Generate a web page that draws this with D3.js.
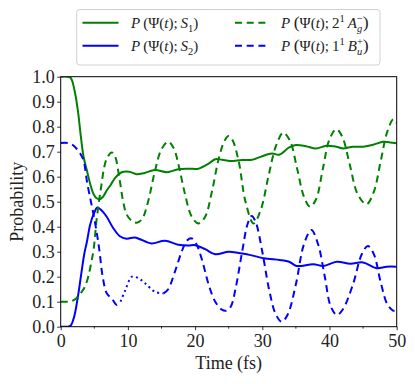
<html>
<head>
<script src="https://cdnjs.cloudflare.com/ajax/libs/d3/7.8.5/d3.min.js"></script>
<style>
  body { margin: 0; background: #fff; }
  svg { display: block; }
</style>
</head>
<body>
<svg id="chart" width="415" height="384"></svg>
<script>
// P(Psi(t); S1)  -- green solid
var s1Points = [[0,1.0],[1,1.0],[1.5,0.995],[2.1,0.94],[2.6,0.855],[3.0,0.76],[3.4,0.68],[3.9,0.625],[4.4,0.57],
  [4.9,0.53],[5.3,0.515],[5.75,0.51],[6.3,0.52],[6.85,0.545],[7.5,0.57],[8.1,0.595],[9.1,0.618],[10.2,0.62],
  [11.3,0.61],[12.5,0.615],[14,0.627],[15.8,0.618],[17.5,0.63],[19,0.632],[20.5,0.632],[22,0.652],[23,0.67],
  [24,0.668],[25.2,0.663],[27,0.667],[28.5,0.668],[30.5,0.687],[31.5,0.693],[32.5,0.688],[34,0.717],[35,0.727],
  [36.5,0.722],[38,0.713],[39.5,0.724],[41,0.72],[42,0.713],[43.5,0.72],[45,0.72],[46.5,0.728],[48,0.74],
  [49,0.737],[50,0.734]];

// P(Psi(t); S2)  -- blue solid
var s2Points = [[0,0],[1,0],[1.5,0.005],[2.0,0.04],[2.5,0.11],[3.0,0.2],[3.5,0.29],[3.9,0.34],[4.4,0.41],
  [4.9,0.45],[5.45,0.477],[6.1,0.465],[6.85,0.44],[7.8,0.395],[8.8,0.362],[9.8,0.352],[11,0.357],[11.8,0.35],
  [13.5,0.333],[15.5,0.344],[17.5,0.328],[19,0.325],[20,0.326],[21.5,0.31],[23,0.29],[25,0.3],[26.5,0.295],
  [27.7,0.29],[30.2,0.274],[32.6,0.267],[34,0.26],[35.1,0.243],[37.6,0.25],[39.1,0.243],[41.1,0.26],
  [43.1,0.252],[45,0.257],[47,0.234],[48.5,0.24],[50,0.24]];

// P(Psi(t); 2^1 A_g^-)  -- green dashed
var agPoints = [[0,0.1],[1,0.1],[1.6,0.102],[2.3,0.113],[3.0,0.135],[3.6,0.16],[4.1,0.2],[4.5,0.25],[4.9,0.31],
  [5.35,0.43],[5.75,0.51],[6.1,0.574],[6.45,0.635],[6.9,0.675],[7.6,0.697],[8.1,0.68],[8.7,0.6],[9.3,0.5],
  [9.8,0.45],[10.5,0.425],[11.3,0.416],[12.1,0.43],[13,0.5],[14,0.62],[15,0.71],[16,0.74],[16.8,0.715],
  [17.6,0.64],[18.5,0.53],[19.5,0.44],[20.5,0.413],[21.5,0.44],[22.5,0.54],[23.5,0.67],[24.4,0.745],[25,0.763],
  [25.6,0.745],[26.5,0.66],[27.5,0.5],[28.7,0.413],[29.8,0.47],[30.9,0.6],[32,0.72],[33.1,0.776],[34.1,0.745],
  [35.2,0.63],[36.2,0.52],[37.1,0.48],[38,0.51],[39,0.63],[40,0.75],[41,0.79],[41.9,0.76],[43,0.65],
  [44.2,0.53],[45.5,0.49],[46.6,0.54],[47.6,0.66],[48.6,0.78],[49.5,0.83],[50,0.815]];

// P(Psi(t); 1^1 B_u^+)  -- blue dashed, dotted between buDotStart and buDotEnd
var buPoints = [[0,0.735],[1,0.735],[1.6,0.73],[2.1,0.72],[2.9,0.693],[3.4,0.665],[3.95,0.574],[4.5,0.5],
  [4.95,0.44],[5.4,0.37],[5.75,0.307],[6.25,0.2],[6.85,0.134],[7.6,0.113],[8.35,0.087],[8.9,0.1],
  [9.6,0.145],[10.6,0.2],[11.5,0.195],[12.5,0.175],[14,0.14],[15.3,0.133],
  [16,0.15],[17,0.22],[18,0.3],[18.8,0.345],[19.5,0.353],[20.2,0.33],[21,0.27],[22,0.17],[23,0.1],
  [24,0.068],[24.6,0.064],[25.3,0.08],[26,0.15],[27,0.3],[27.8,0.41],[28.4,0.443],[29,0.42],[30,0.3],
  [31,0.15],[32,0.05],[32.9,0.02],[33.8,0.05],[35,0.17],[36.2,0.33],[37.3,0.387],[38.3,0.33],[39.3,0.2],
  [40.2,0.08],[41.1,0.047],[42,0.07],[43.5,0.17],[44.8,0.29],[45.7,0.323],[46.6,0.29],[47.6,0.18],
  [48.6,0.09],[49.5,0.064],[50,0.065]];
var buDotStart = 8.9, buDotEnd = 15.3;

var xTicks = [0, 10, 20, 30, 40, 50];
var xMinorTicks = [5, 15, 25, 35, 45];
var yTicks = [0, 0.1, 0.2, 0.3, 0.4, 0.5, 0.6, 0.7, 0.8, 0.9, 1.0];
var xLabel = "Time (fs)";
var yLabel = "Probability";

var font = "'Liberation Serif', 'DejaVu Serif', serif";
var svg = d3.select("#chart");

var xScale = d3.scaleLinear().domain([0, 50]).range([60.7, 396.7]);
var yScale = d3.scaleLinear().domain([0, 1]).range([326.7, 76.7]);

svg.append("clipPath").attr("id", "plotclip")
  .append("rect")
  .attr("x", xScale(0)).attr("y", yScale(1))
  .attr("width", xScale(50) - xScale(0)).attr("height", yScale(0) - yScale(1));

var line = d3.line()
  .x(d => xScale(d[0]))
  .y(d => yScale(d[1]))
  .curve(d3.curveCatmullRom.alpha(0.5));

var plot = svg.append("g").attr("clip-path", "url(#plotclip)");

function drawLine(pts, color, dash) {
  var p = plot.append("path")
    .datum(pts)
    .attr("d", line)
    .attr("fill", "none")
    .attr("stroke", color)
    .attr("stroke-width", 2);
  if (dash) p.attr("stroke-dasharray", dash);
}

drawLine(s1Points, "green", null);
drawLine(s2Points, "blue", null);
drawLine(agPoints, "green", "7,4.7");
drawLine(buPoints.filter(d => d[0] <= buDotStart), "blue", "7,4.7");
drawLine(buPoints.filter(d => d[0] >= buDotStart && d[0] <= buDotEnd), "blue", "2,3.3");
drawLine(buPoints.filter(d => d[0] >= buDotEnd), "blue", "7,4.7");

// axes
var xAxis = d3.axisBottom(xScale).tickValues(xTicks).tickSize(3.5).tickPadding(4).tickFormat(d3.format("d"));
var gx = svg.append("g").attr("transform", "translate(0," + yScale(0) + ")").call(xAxis);

var yAxis = d3.axisLeft(yScale).tickValues(yTicks).tickSize(3.5).tickPadding(2.5).tickFormat(d3.format(".1f"));
var gy = svg.append("g").attr("transform", "translate(" + xScale(0) + ",0)").call(yAxis);

gx.selectAll(".tick").data(xMinorTicks, d => d).enter()
  .append("line")
  .attr("x1", d => xScale(d)).attr("x2", d => xScale(d))
  .attr("y1", 0).attr("y2", 2)
  .attr("stroke", "#000").attr("stroke-width", 0.8);

[gx, gy].forEach(g => {
  g.select(".domain").remove();
  g.attr("font-family", font).attr("font-size", 18);
  g.selectAll(".tick line").attr("stroke", "#000").attr("stroke-width", 0.8);
  g.selectAll(".tick text").attr("fill", "#222");
});

// frame
svg.append("rect")
  .attr("x", xScale(0)).attr("y", yScale(1))
  .attr("width", xScale(50) - xScale(0)).attr("height", yScale(0) - yScale(1))
  .attr("fill", "none").attr("stroke", "#000").attr("stroke-width", 1);

svg.append("text")
  .attr("x", (xScale(0) + xScale(50)) / 2).attr("y", 369)
  .attr("text-anchor", "middle")
  .attr("font-family", font).attr("font-size", 18).attr("fill", "#222")
  .text(xLabel);

svg.append("text")
  .attr("transform", "translate(23," + (yScale(0) + yScale(1)) / 2 + ") rotate(-90)")
  .attr("text-anchor", "middle")
  .attr("font-family", font).attr("font-size", 18).attr("fill", "#222")
  .text(yLabel);

// legend
var legendItems = [
  { color: "green", dash: null, col: 0, row: 0,
    parts: [{t:"P",i:1},{t:"\u2009(\u03A8(",i:0},{t:"t",i:1},{t:");\u2009",i:0},{t:"S",i:1},{t:"1",v:"sub"},{t:")",i:0}] },
  { color: "blue", dash: null, col: 0, row: 1,
    parts: [{t:"P",i:1},{t:"\u2009(\u03A8(",i:0},{t:"t",i:1},{t:");\u2009",i:0},{t:"S",i:1},{t:"2",v:"sub"},{t:")",i:0}] },
  { color: "green", dash: "7,4.7", col: 1, row: 0,
    parts: [{t:"P",i:1},{t:"\u2009(",big:1},{t:"\u03A8(",i:0},{t:"t",i:1},{t:");\u20092",i:0},{t:"1",v:"sup"},{t:"\u2009A",i:1},
            {t:"g",i:1,v:"sub"},{t:"\u2212",v:"sup",dx:"-0.5em"},{t:")",big:1}] },
  { color: "blue", dash: "7,4.7", col: 1, row: 1,
    parts: [{t:"P",i:1},{t:"\u2009(",big:1},{t:"\u03A8(",i:0},{t:"t",i:1},{t:");\u20091",i:0},{t:"1",v:"sup"},{t:"\u2009B",i:1},
            {t:"u",i:1,v:"sub"},{t:"+",v:"sup",dx:"-0.5em"},{t:")",big:1}] }
];
var legendCols = [{ x1: 82.5, x2: 118.5, tx: 131 }, { x1: 235, x2: 270, tx: 281 }];
var legendRows = [22.7, 45.7];

var legend = svg.append("g");
legend.append("rect")
  .attr("x", 76.7).attr("y", 9.5).attr("width", 303.3).attr("height", 55.5)
  .attr("rx", 3).attr("fill", "#fff").attr("fill-opacity", 0.8)
  .attr("stroke", "#d0d0d0").attr("stroke-width", 1);

legendItems.forEach(item => {
  var c = legendCols[item.col], y = legendRows[item.row];
  var l = legend.append("line")
    .attr("x1", c.x1).attr("x2", c.x2).attr("y1", y).attr("y2", y)
    .attr("stroke", item.color).attr("stroke-width", 2);
  if (item.dash) l.attr("stroke-dasharray", item.dash);

  var txt = legend.append("text")
    .attr("x", c.tx).attr("y", y + 5)
    .attr("font-family", font).attr("font-size", 15).attr("fill", "#222");
  var cur = 0;
  item.parts.forEach(p => {
    var target = p.v === "sub" ? 4 : (p.v === "sup" ? -6 : 0);
    var ts = txt.append("tspan").attr("dy", target - cur).text(p.t);
    cur = target;
    if (p.i) ts.attr("font-style", "italic");
    if (p.v) ts.attr("font-size", "70%");
    if (p.big) ts.attr("font-size", "118%");
    if (p.dx) ts.attr("dx", p.dx);
  });
});
</script>
</body>
</html>
